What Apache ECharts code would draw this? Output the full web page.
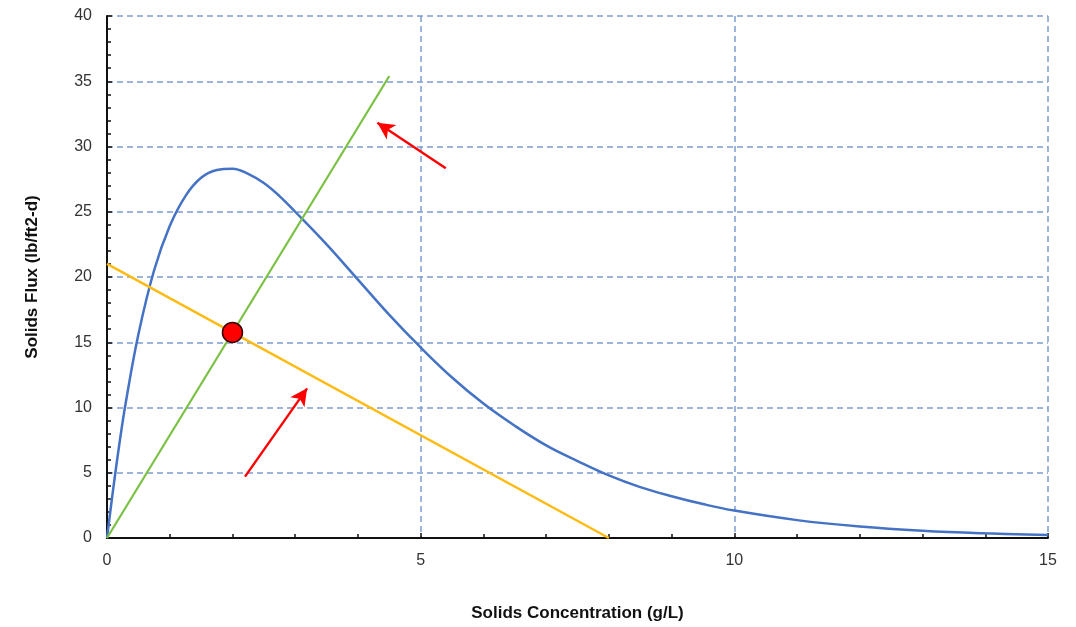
<!DOCTYPE html>
<html>
<head>
<meta charset="utf-8">
<title>Solids Flux vs Solids Concentration</title>
<script src="https://cdn.jsdelivr.net/npm/echarts@6/dist/echarts.min.js"></script>
<style>
  html, body { margin: 0; padding: 0; background: #ffffff; }
  #chart { width: 1076px; height: 627px; }
</style>
</head>
<body>
<div id="chart"></div>
<script>
// Gravity flux curve: solids concentration (g/L) and solids flux (lb/ft2-d)
const fluxConc = [0, 0.1, 0.2, 0.3, 0.5, 0.75, 1.0, 1.25, 1.5, 1.75, 2.0, 2.25, 2.5, 2.75, 3.0,
                  3.5, 4.0, 4.5, 5.0, 5.5, 6.0, 6.5, 7.0, 7.5, 8.0, 8.5, 9.0, 9.5, 10,
                  11, 12, 13, 14, 15];
const fluxValues = [0, 3.8, 7.3, 10.4, 15.6, 20.5, 23.9, 26.2, 27.6, 28.2, 28.3, 27.9, 27.2, 26.2, 25.0,
                    22.5, 19.8, 17.1, 14.6, 12.3, 10.3, 8.6, 7.1, 5.9, 4.8, 3.9, 3.2, 2.6, 2.1,
                    1.37, 0.88, 0.56, 0.36, 0.23];

// Overflow (loading) line from the origin
const overflowConc = [0, 4.5];
const overflowFlux = [0, 35.4];

// Underflow operating line
const underflowConc = [0, 8];
const underflowFlux = [21, 0];

// Operating state point where the two lines meet
const statePoint = [2.0, 15.75];

// Annotation arrows: [tail, head] in data units
const arrowUpper = [[5.40, 28.33], [4.31, 31.82]];
const arrowLower = [[2.20, 4.70], [3.19, 11.47]];

// Axis ticks
const xTicks = { min: 0, max: 15, step: 5 };
const yTicks = { min: 0, max: 40, step: 5 };

const zip = (xs, ys) => xs.map((x, i) => [x, ys[i]]);

const gridDash = {
  show: true,
  lineStyle: { color: '#7d9dcf', width: 1.5, type: [6, 4] }
};
const fontFamily = '"Liberation Sans", Arial, Helvetica, sans-serif';

const arrowPair = (pair) => [
  { coord: pair[0], symbol: 'none' },
  { coord: pair[1], symbol: 'arrow', symbolSize: [13, 17] }
];

const chart = echarts.init(document.getElementById('chart'), null, { renderer: 'canvas' });
chart.setOption({
  animation: false,
  backgroundColor: '#ffffff',
  grid: { left: 107, right: 28, top: 16, bottom: 89 },
  xAxis: {
    type: 'value',
    min: xTicks.min, max: xTicks.max, interval: xTicks.step,
    name: 'Solids Concentration (g/L)',
    nameLocation: 'middle',
    nameGap: 67,
    nameTextStyle: { fontFamily, fontSize: 17, fontWeight: 'bold', color: '#111111' },
    axisLine: { show: true, onZero: false, lineStyle: { color: '#111111', width: 2 } },
    axisTick: { show: true, inside: true, length: 5, lineStyle: { color: '#111111', width: 1.5 } },
    minorTick: { show: true, splitNumber: 5, length: 4, lineStyle: { color: '#111111', width: 1.5 } },
    axisLabel: { fontFamily, fontSize: 16, color: '#333333', margin: 15 },
    splitLine: gridDash
  },
  yAxis: {
    type: 'value',
    min: yTicks.min, max: yTicks.max, interval: yTicks.step,
    name: 'Solids Flux (lb/ft2-d)',
    nameLocation: 'middle',
    nameGap: 66,
    nameRotate: 90,
    nameTextStyle: { fontFamily, fontSize: 17, fontWeight: 'bold', color: '#111111' },
    axisLine: { show: true, onZero: false, lineStyle: { color: '#111111', width: 2 } },
    axisTick: { show: true, inside: true, length: 5, lineStyle: { color: '#111111', width: 1.5 } },
    minorTick: { show: true, splitNumber: 5, length: 4, lineStyle: { color: '#111111', width: 1.5 } },
    axisLabel: { fontFamily, fontSize: 16, color: '#333333', margin: 15 },
    splitLine: gridDash
  },
  series: [
    {
      name: 'Gravity flux',
      type: 'line',
      data: zip(fluxConc, fluxValues),
      smooth: 0.4,
      showSymbol: false,
      lineStyle: { color: '#4472c4', width: 2.5 },
      z: 3
    },
    {
      name: 'Overflow line',
      type: 'line',
      data: zip(overflowConc, overflowFlux),
      showSymbol: false,
      lineStyle: { color: '#7ac143', width: 2.2 },
      z: 4
    },
    {
      name: 'Underflow line',
      type: 'line',
      data: zip(underflowConc, underflowFlux),
      showSymbol: false,
      lineStyle: { color: '#fdbb14', width: 2.5 },
      z: 4,
      markLine: {
        silent: true,
        animation: false,
        label: { show: false },
        lineStyle: { color: '#ff0000', width: 2.4, type: 'solid' },
        data: [arrowPair(arrowUpper), arrowPair(arrowLower)]
      }
    },
    {
      name: 'State point',
      type: 'scatter',
      data: [statePoint],
      symbol: 'circle',
      symbolSize: 20,
      itemStyle: { color: '#ff0000', opacity: 1, borderColor: '#3a0000', borderWidth: 1.5 },
      z: 6
    }
  ]
});
</script>
</body>
</html>
